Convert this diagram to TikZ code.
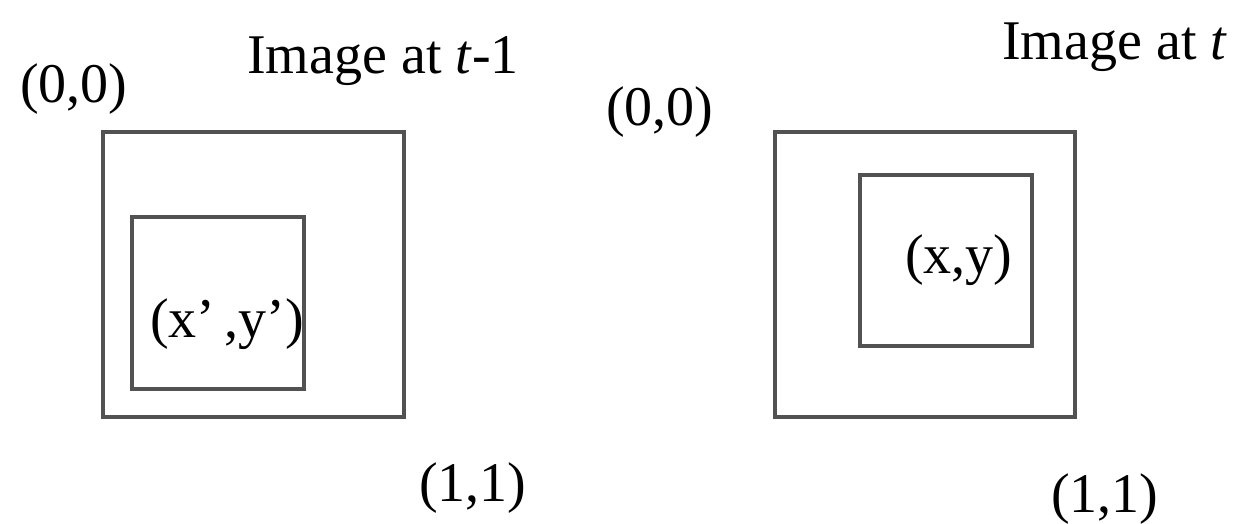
\documentclass[tikz,border=0pt]{standalone}
\usepackage{fontspec}
\setmainfont{Liberation Serif}
\begin{document}
\begin{tikzpicture}[x=0.75pt,y=-0.75pt,
  boxline/.style={draw=black!68, line width=2.4pt},
  lbl/.style={inner sep=0pt, anchor=base west, font=\fontsize{42}{48}\selectfont}]
\useasboundingbox (0,0) rectangle (1237,524);
% left image (t-1)
\draw[boxline] (103,132) rectangle (404,417);
\draw[boxline] (132,217) rectangle (304,389);
\node[lbl] (titleA) at (247,74) {Image at \textit{t}-1};
\node[lbl] (oA) at (20,103) {(0,0)};
\node[lbl] (eA) at (419,501) {(1,1)};
\node[lbl] (pA) at (150,337) {(x’\,,y’)};
% right image (t)
\draw[boxline] (775,132) rectangle (1075,417);
\draw[boxline] (860,175) rectangle (1032,346);
\node[lbl] (titleB) at (1002,60) {Image at \textit{t}};
\node[lbl] (oB) at (606,126) {(0,0)};
\node[lbl] (eB) at (1051,512) {(1,1)};
\node[lbl] (pB) at (905,273) {(x,y)};
\end{tikzpicture}
\end{document}
